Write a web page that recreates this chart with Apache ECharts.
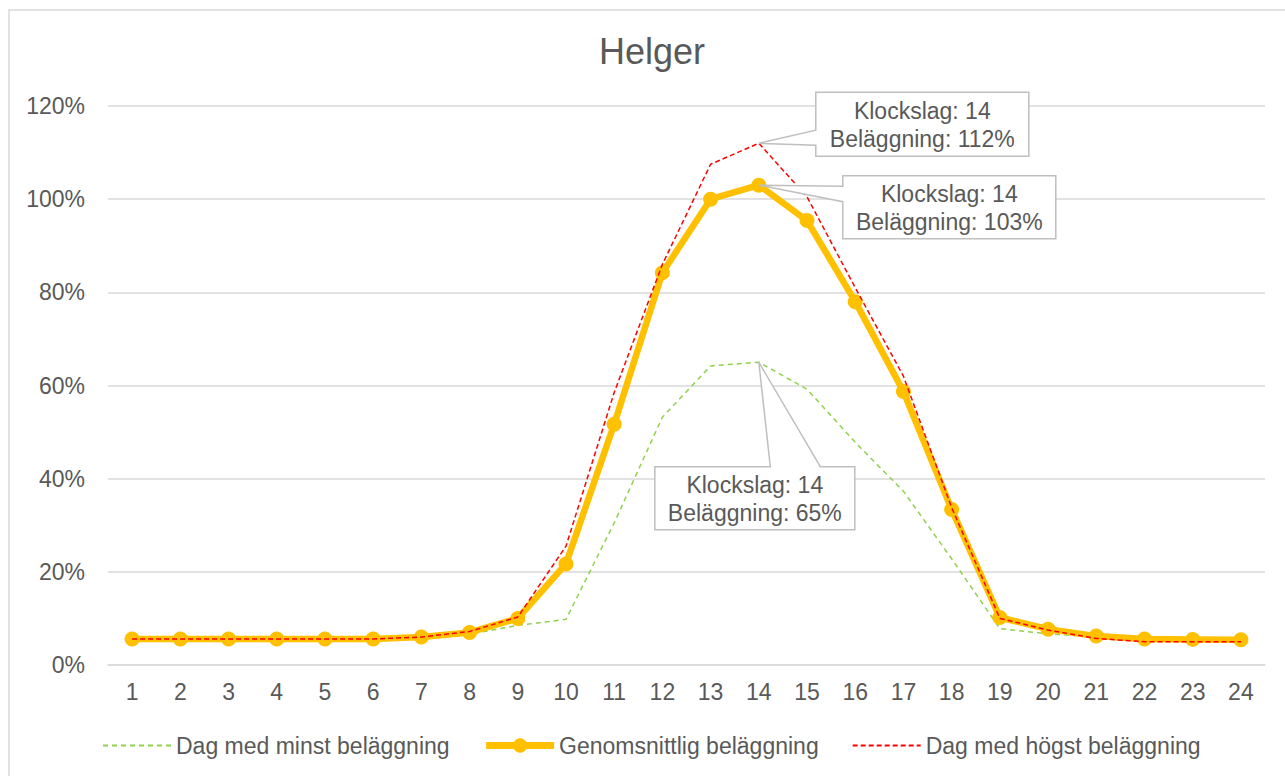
<!DOCTYPE html>
<html>
<head>
<meta charset="utf-8">
<title>Helger</title>
<script src="https://cdn.jsdelivr.net/npm/echarts@6/dist/echarts.min.js"></script>
<style>
  html, body { margin: 0; padding: 0; background: #ffffff; }
  #chart { width: 1285px; height: 776px; }
</style>
</head>
<body>
<div id="chart"></div>
<script>
// Hour of day (category axis)
const hours = ['1','2','3','4','5','6','7','8','9','10','11','12',
               '13','14','15','16','17','18','19','20','21','22','23','24'];

// Occupancy in percent per hour
const minDay = [5.2, 5.2, 5.2, 5.2, 5.2, 5.2, 5.5, 6.6, 8.5, 9.8, 30.5, 53.2,
                64.2, 65, 59.2, 47.8, 37.3, 22.8, 7.8, 6.7, 6.0, 5.3, 5.2, 5.2];
const avgDay = [5.6, 5.6, 5.6, 5.6, 5.6, 5.6, 6.0, 7.0, 10.0, 21.7, 51.7, 84.2,
                100, 103, 95.4, 78.0, 58.7, 33.4, 10.2, 7.7, 6.2, 5.6, 5.5, 5.4];
const maxDay = [5.6, 5.6, 5.6, 5.6, 5.6, 5.6, 6.0, 7.2, 10.3, 25.5, 58.5, 86.0,
                107.5, 112, 100.5, 81.0, 62.0, 33.8, 10.0, 7.5, 5.7, 5.0, 5.0, 5.0];

// Y axis ticks (percent)
const yTicks = [0, 20, 40, 60, 80, 100, 120];

const seriesNames = ['Dag med minst beläggning', 'Genomsnittlig beläggning', 'Dag med högst beläggning'];

const FONT = "'Liberation Sans', Arial, sans-serif";
const TEXT = '#595959';
const GRIDC = '#d9d9d9';

const chart = echarts.init(document.getElementById('chart'), null, { renderer: 'svg' });

chart.setOption({
  animation: false,
  backgroundColor: '#ffffff',
  textStyle: { fontFamily: FONT, color: TEXT },
  title: {
    text: 'Helger',
    left: 594,
    top: 28,
    textStyle: { fontFamily: FONT, fontSize: 36, fontWeight: 'normal', color: TEXT }
  },
  grid: { left: 108, right: 20, top: 106, bottom: 111, containLabel: false },
  legend: {
    left: 97,
    top: 729,
    itemWidth: 68,
    itemHeight: 18,
    itemGap: 33,
    textStyle: { fontFamily: FONT, fontSize: 23, color: TEXT },
    data: [
      // dashed entries: line only, no marker
      { name: seriesNames[0], itemStyle: { opacity: 0 } },
      { name: seriesNames[1], lineStyle: { width: 7 } },
      { name: seriesNames[2], itemStyle: { opacity: 0 } }
    ]
  },
  xAxis: {
    type: 'category',
    data: hours,
    boundaryGap: true,
    axisTick: { show: false },
    axisLine: { lineStyle: { color: GRIDC, width: 1.5 } },
    axisLabel: { fontFamily: FONT, fontSize: 23, color: TEXT, margin: 15 }
  },
  yAxis: {
    type: 'value',
    min: yTicks[0],
    max: yTicks[yTicks.length - 1],
    interval: yTicks[1] - yTicks[0],
    axisLine: { show: false },
    axisTick: { show: false },
    splitLine: { lineStyle: { color: GRIDC, width: 1.5 } },
    axisLabel: { fontFamily: FONT, fontSize: 23, color: TEXT, margin: 23, formatter: '{value}%' }
  },
  series: [
    {
      name: seriesNames[0],
      type: 'line',
      data: minDay,
      symbol: 'none',
      z: 2,
      lineStyle: { color: '#92D050', width: 1.5, type: [5, 4] },
      itemStyle: { color: '#92D050' }
    },
    {
      name: seriesNames[1],
      type: 'line',
      data: avgDay,
      symbol: 'circle',
      symbolSize: 15,
      z: 3,
      lineStyle: { color: '#FFC000', width: 6.5 },
      itemStyle: { color: '#FFC000' }
    },
    {
      name: seriesNames[2],
      type: 'line',
      data: maxDay,
      symbol: 'none',
      z: 4,
      lineStyle: { color: '#FF0000', width: 1.5, type: [5, 3] },
      itemStyle: { color: '#FF0000' }
    }
  ]
});

// Callout boxes pointing at the peak hour of each series.
// Box geometry is given relative to the marked point (pixels).
const peakIndex = 13;
const callouts = [
  { series: 2, values: maxDay, box: { dx: 57, dy: -51, w: 213, h: 64 }, wedge: { side: 'left', a: -13, b: 2 } },
  { series: 1, values: avgDay, box: { dx: 84, dy: -9.5, w: 213, h: 63 }, wedge: { side: 'left', a: 1, b: 16.5 } },
  { series: 0, values: minDay, box: { dx: -104, dy: 104.5, w: 200, h: 63 }, wedge: { side: 'top', a: 11.5, b: 61.5 } }
];

const graphics = [
  // chart area frame
  { type: 'rect', silent: true, z: 0, shape: { x: 9, y: 10, width: 1400, height: 900 },
    style: { fill: 'none', stroke: GRIDC, lineWidth: 1.5 } }
];

callouts.forEach(function (c) {
  const v = c.values[peakIndex];
  const p = chart.convertToPixel({ seriesIndex: c.series }, [peakIndex, v]);
  const bx = p[0] + c.box.dx, by = p[1] + c.box.dy, bw = c.box.w, bh = c.box.h;
  let pts;
  if (c.wedge.side === 'left') {
    pts = [[bx, by], [bx + bw, by], [bx + bw, by + bh], [bx, by + bh],
           [bx, p[1] + c.wedge.b], [p[0], p[1]], [bx, p[1] + c.wedge.a]];
  } else {
    pts = [[bx, by], [p[0] + c.wedge.a, by], [p[0], p[1]], [p[0] + c.wedge.b, by],
           [bx + bw, by], [bx + bw, by + bh], [bx, by + bh]];
  }
  graphics.push({
    type: 'polygon', silent: true, z: 50,
    shape: { points: pts },
    style: { fill: '#ffffff', stroke: '#bfbfbf', lineWidth: 1.5 }
  });
  graphics.push({
    type: 'text', silent: true, z: 51,
    x: bx + bw / 2, y: by + bh / 2 + 1,
    style: {
      text: 'Klockslag: ' + hours[peakIndex] + '\nBeläggning: ' + Math.round(v) + '%',
      font: '23px ' + FONT,
      lineHeight: 28,
      fill: TEXT,
      align: 'center',
      verticalAlign: 'middle'
    }
  });
});

chart.setOption({ graphic: graphics });
</script>
</body>
</html>
